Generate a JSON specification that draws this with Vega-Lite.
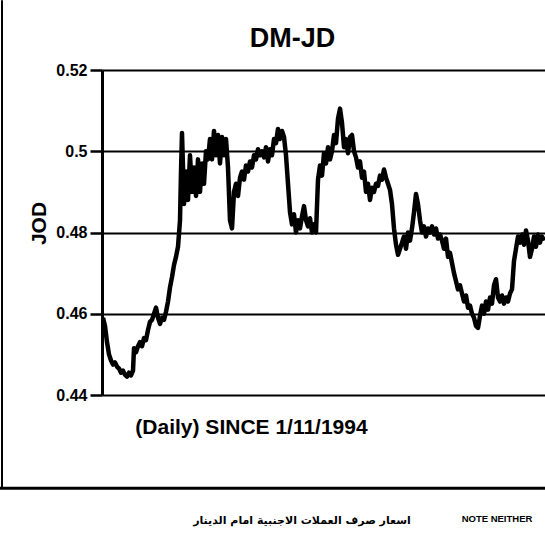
{
  "$schema": "https://vega.github.io/schema/vega-lite/v6.json",
  "width": 443,
  "height": 325,
  "autosize": {"type": "none"},
  "padding": {"left": 102, "top": 70, "right": 0, "bottom": 145},
  "background": "white",
  "title": {"text": "DM-JD", "font": "Liberation Sans", "fontSize": 27, "fontWeight": "bold", "color": "black", "dx": -31, "offset": -54},
  "config": {"view": {"stroke": null}},
  "datasets": {
    "series": [
      {"day": 1, "rate": 0.459}, {"day": 3, "rate": 0.457}, {"day": 5, "rate": 0.453}, {"day": 7, "rate": 0.450},
      {"day": 9, "rate": 0.4485}, {"day": 11, "rate": 0.4475}, {"day": 13, "rate": 0.448}, {"day": 15, "rate": 0.447},
      {"day": 17, "rate": 0.4465}, {"day": 19, "rate": 0.4455}, {"day": 21, "rate": 0.446}, {"day": 23, "rate": 0.445},
      {"day": 25, "rate": 0.4445}, {"day": 27, "rate": 0.4455}, {"day": 29, "rate": 0.4448}, {"day": 31, "rate": 0.446},
      {"day": 32, "rate": 0.4515}, {"day": 34, "rate": 0.4505}, {"day": 36, "rate": 0.452}, {"day": 38, "rate": 0.453},
      {"day": 40, "rate": 0.452}, {"day": 42, "rate": 0.454}, {"day": 44, "rate": 0.4535}, {"day": 46, "rate": 0.456},
      {"day": 48, "rate": 0.458}, {"day": 50, "rate": 0.4585}, {"day": 52, "rate": 0.46}, {"day": 54, "rate": 0.4615},
      {"day": 56, "rate": 0.459}, {"day": 58, "rate": 0.4575}, {"day": 60, "rate": 0.459}, {"day": 62, "rate": 0.4585},
      {"day": 64, "rate": 0.4605}, {"day": 66, "rate": 0.463}, {"day": 68, "rate": 0.4665}, {"day": 70, "rate": 0.469},
      {"day": 72, "rate": 0.472}, {"day": 74, "rate": 0.474}, {"day": 76, "rate": 0.4765}, {"day": 78, "rate": 0.483},
      {"day": 79, "rate": 0.495}, {"day": 80, "rate": 0.5045}, {"day": 81, "rate": 0.496}, {"day": 82, "rate": 0.487},
      {"day": 84, "rate": 0.495}, {"day": 86, "rate": 0.488}, {"day": 88, "rate": 0.499}, {"day": 90, "rate": 0.490},
      {"day": 92, "rate": 0.496}, {"day": 94, "rate": 0.489}, {"day": 96, "rate": 0.498}, {"day": 98, "rate": 0.490},
      {"day": 100, "rate": 0.497}, {"day": 102, "rate": 0.492}, {"day": 104, "rate": 0.500}, {"day": 106, "rate": 0.498},
      {"day": 108, "rate": 0.503}, {"day": 110, "rate": 0.498}, {"day": 112, "rate": 0.505}, {"day": 114, "rate": 0.499},
      {"day": 116, "rate": 0.504}, {"day": 118, "rate": 0.497}, {"day": 120, "rate": 0.5035}, {"day": 122, "rate": 0.499},
      {"day": 124, "rate": 0.503}, {"day": 126, "rate": 0.496}, {"day": 128, "rate": 0.483}, {"day": 130, "rate": 0.481},
      {"day": 132, "rate": 0.490}, {"day": 134, "rate": 0.492}, {"day": 136, "rate": 0.489}, {"day": 138, "rate": 0.4935},
      {"day": 140, "rate": 0.495}, {"day": 142, "rate": 0.493}, {"day": 144, "rate": 0.4965}, {"day": 146, "rate": 0.495},
      {"day": 148, "rate": 0.4975}, {"day": 150, "rate": 0.496}, {"day": 152, "rate": 0.499}, {"day": 154, "rate": 0.498},
      {"day": 156, "rate": 0.5005}, {"day": 158, "rate": 0.499}, {"day": 160, "rate": 0.500}, {"day": 162, "rate": 0.4985},
      {"day": 164, "rate": 0.501}, {"day": 166, "rate": 0.4975}, {"day": 168, "rate": 0.5005}, {"day": 170, "rate": 0.499},
      {"day": 172, "rate": 0.503}, {"day": 174, "rate": 0.502}, {"day": 176, "rate": 0.5055}, {"day": 178, "rate": 0.503},
      {"day": 180, "rate": 0.505}, {"day": 182, "rate": 0.5035}, {"day": 184, "rate": 0.499}, {"day": 186, "rate": 0.492},
      {"day": 188, "rate": 0.485}, {"day": 190, "rate": 0.482}, {"day": 192, "rate": 0.4845}, {"day": 194, "rate": 0.480},
      {"day": 196, "rate": 0.483}, {"day": 198, "rate": 0.481}, {"day": 200, "rate": 0.484}, {"day": 202, "rate": 0.4865},
      {"day": 204, "rate": 0.483}, {"day": 206, "rate": 0.4815}, {"day": 208, "rate": 0.4835}, {"day": 210, "rate": 0.480},
      {"day": 212, "rate": 0.482}, {"day": 214, "rate": 0.480}, {"day": 216, "rate": 0.493}, {"day": 218, "rate": 0.4965},
      {"day": 220, "rate": 0.494}, {"day": 222, "rate": 0.4995}, {"day": 224, "rate": 0.497}, {"day": 226, "rate": 0.501},
      {"day": 228, "rate": 0.498}, {"day": 230, "rate": 0.500}, {"day": 232, "rate": 0.504}, {"day": 234, "rate": 0.502},
      {"day": 236, "rate": 0.508}, {"day": 238, "rate": 0.5105}, {"day": 240, "rate": 0.507}, {"day": 242, "rate": 0.501},
      {"day": 244, "rate": 0.503}, {"day": 246, "rate": 0.4995}, {"day": 248, "rate": 0.5035}, {"day": 250, "rate": 0.504},
      {"day": 252, "rate": 0.500}, {"day": 254, "rate": 0.4985}, {"day": 256, "rate": 0.496}, {"day": 258, "rate": 0.4975},
      {"day": 260, "rate": 0.4935}, {"day": 262, "rate": 0.495}, {"day": 264, "rate": 0.490}, {"day": 266, "rate": 0.492},
      {"day": 268, "rate": 0.488}, {"day": 270, "rate": 0.491}, {"day": 272, "rate": 0.490}, {"day": 274, "rate": 0.492},
      {"day": 276, "rate": 0.4915}, {"day": 278, "rate": 0.494}, {"day": 280, "rate": 0.493}, {"day": 282, "rate": 0.4955},
      {"day": 284, "rate": 0.4935}, {"day": 286, "rate": 0.492}, {"day": 288, "rate": 0.4905}, {"day": 290, "rate": 0.487},
      {"day": 292, "rate": 0.481}, {"day": 294, "rate": 0.477}, {"day": 296, "rate": 0.4745}, {"day": 298, "rate": 0.476},
      {"day": 300, "rate": 0.4775}, {"day": 302, "rate": 0.479}, {"day": 304, "rate": 0.476}, {"day": 306, "rate": 0.480},
      {"day": 308, "rate": 0.478}, {"day": 310, "rate": 0.481}, {"day": 312, "rate": 0.485}, {"day": 314, "rate": 0.4895},
      {"day": 316, "rate": 0.487}, {"day": 318, "rate": 0.483}, {"day": 320, "rate": 0.480}, {"day": 322, "rate": 0.4815},
      {"day": 324, "rate": 0.479}, {"day": 326, "rate": 0.481}, {"day": 328, "rate": 0.480}, {"day": 330, "rate": 0.4815},
      {"day": 332, "rate": 0.4795}, {"day": 334, "rate": 0.481}, {"day": 336, "rate": 0.4785}, {"day": 338, "rate": 0.4795},
      {"day": 340, "rate": 0.478}, {"day": 342, "rate": 0.476}, {"day": 344, "rate": 0.4785}, {"day": 346, "rate": 0.474},
      {"day": 348, "rate": 0.475}, {"day": 350, "rate": 0.4725}, {"day": 352, "rate": 0.470}, {"day": 354, "rate": 0.468},
      {"day": 356, "rate": 0.466}, {"day": 358, "rate": 0.467}, {"day": 360, "rate": 0.465}, {"day": 362, "rate": 0.463},
      {"day": 364, "rate": 0.4645}, {"day": 366, "rate": 0.4615}, {"day": 368, "rate": 0.462}, {"day": 370, "rate": 0.460},
      {"day": 372, "rate": 0.459}, {"day": 374, "rate": 0.457}, {"day": 376, "rate": 0.4565}, {"day": 378, "rate": 0.4595},
      {"day": 380, "rate": 0.462}, {"day": 382, "rate": 0.460}, {"day": 384, "rate": 0.463}, {"day": 386, "rate": 0.461},
      {"day": 388, "rate": 0.464}, {"day": 390, "rate": 0.4625}, {"day": 392, "rate": 0.467}, {"day": 394, "rate": 0.4685},
      {"day": 396, "rate": 0.464}, {"day": 398, "rate": 0.463}, {"day": 400, "rate": 0.4645}, {"day": 402, "rate": 0.4625},
      {"day": 404, "rate": 0.464}, {"day": 406, "rate": 0.463}, {"day": 408, "rate": 0.465}, {"day": 410, "rate": 0.466},
      {"day": 412, "rate": 0.473}, {"day": 414, "rate": 0.476}, {"day": 416, "rate": 0.479}, {"day": 418, "rate": 0.4775},
      {"day": 420, "rate": 0.4795}, {"day": 422, "rate": 0.477}, {"day": 424, "rate": 0.4805}, {"day": 426, "rate": 0.478},
      {"day": 428, "rate": 0.474}, {"day": 430, "rate": 0.476}, {"day": 432, "rate": 0.479}, {"day": 434, "rate": 0.4765},
      {"day": 436, "rate": 0.4795}, {"day": 438, "rate": 0.4775}, {"day": 440, "rate": 0.479}, {"day": 442, "rate": 0.478}
    ]
  },
  "layer": [
    {
      "data": {"name": "series"},
      "mark": {"type": "line", "color": "black", "strokeWidth": 4.5, "strokeJoin": "round", "clip": false},
      "encoding": {
        "x": {
          "field": "day", "type": "quantitative",
          "scale": {"domain": [0, 443], "nice": false, "zero": false},
          "axis": {
            "labels": false, "ticks": false, "domain": false, "grid": false,
            "title": "(Daily) SINCE 1/11/1994",
            "titleFont": "Liberation Sans", "titleFontSize": 21, "titleFontWeight": "bold", "titleColor": "black",
            "titleX": 149, "titleY": 21
          }
        },
        "y": {
          "field": "rate", "type": "quantitative",
          "scale": {"domain": [0.44, 0.52], "nice": false, "zero": false},
          "axis": {
            "values": [0.44, 0.46, 0.48, 0.5, 0.52],
            "format": ".2~f",
            "labelFont": "Liberation Sans", "labelFontSize": 16, "labelFontWeight": "bold", "labelColor": "black",
            "labelPadding": 3,
            "tickSize": 12, "tickWidth": 2.5, "tickColor": "black",
            "domainColor": "black", "domainWidth": 3,
            "grid": true, "gridColor": "black", "gridWidth": 2, "gridOpacity": 1,
            "title": "JOD",
            "titleFont": "Liberation Sans", "titleFontSize": 21, "titleFontWeight": "bold", "titleColor": "black",
            "titleY": 153, "titlePadding": 6
          }
        }
      }
    },
    {
      "data": {"values": [{}]},
      "mark": {"type": "rule", "color": "black", "strokeWidth": 3},
      "encoding": {"x": {"datum": -102}, "x2": {"datum": 443}, "y": {"datum": 0.41704}}
    },
    {
      "data": {"values": [{}]},
      "mark": {"type": "rule", "color": "black", "strokeWidth": 2},
      "encoding": {"x": {"datum": -100}, "y": {"datum": 0.5372}, "y2": {"datum": 0.41704}}
    },
    {
      "data": {"values": [{}]},
      "mark": {"type": "text", "font": "DejaVu Sans", "fontSize": 11, "fontWeight": "bold", "color": "black", "align": "center", "baseline": "middle"},
      "encoding": {"x": {"datum": 200}, "y": {"datum": 0.4089}, "text": {"value": "اسعار صرف العملات الاجنبية امام الدينار"}}
    },
    {
      "data": {"values": [{}]},
      "mark": {"type": "text", "font": "Liberation Sans", "fontSize": 9.5, "fontWeight": "bold", "color": "black", "align": "center", "baseline": "middle"},
      "encoding": {"x": {"datum": 395}, "y": {"datum": 0.4094}, "text": {"value": "NOTE NEITHER"}}
    }
  ]
}
